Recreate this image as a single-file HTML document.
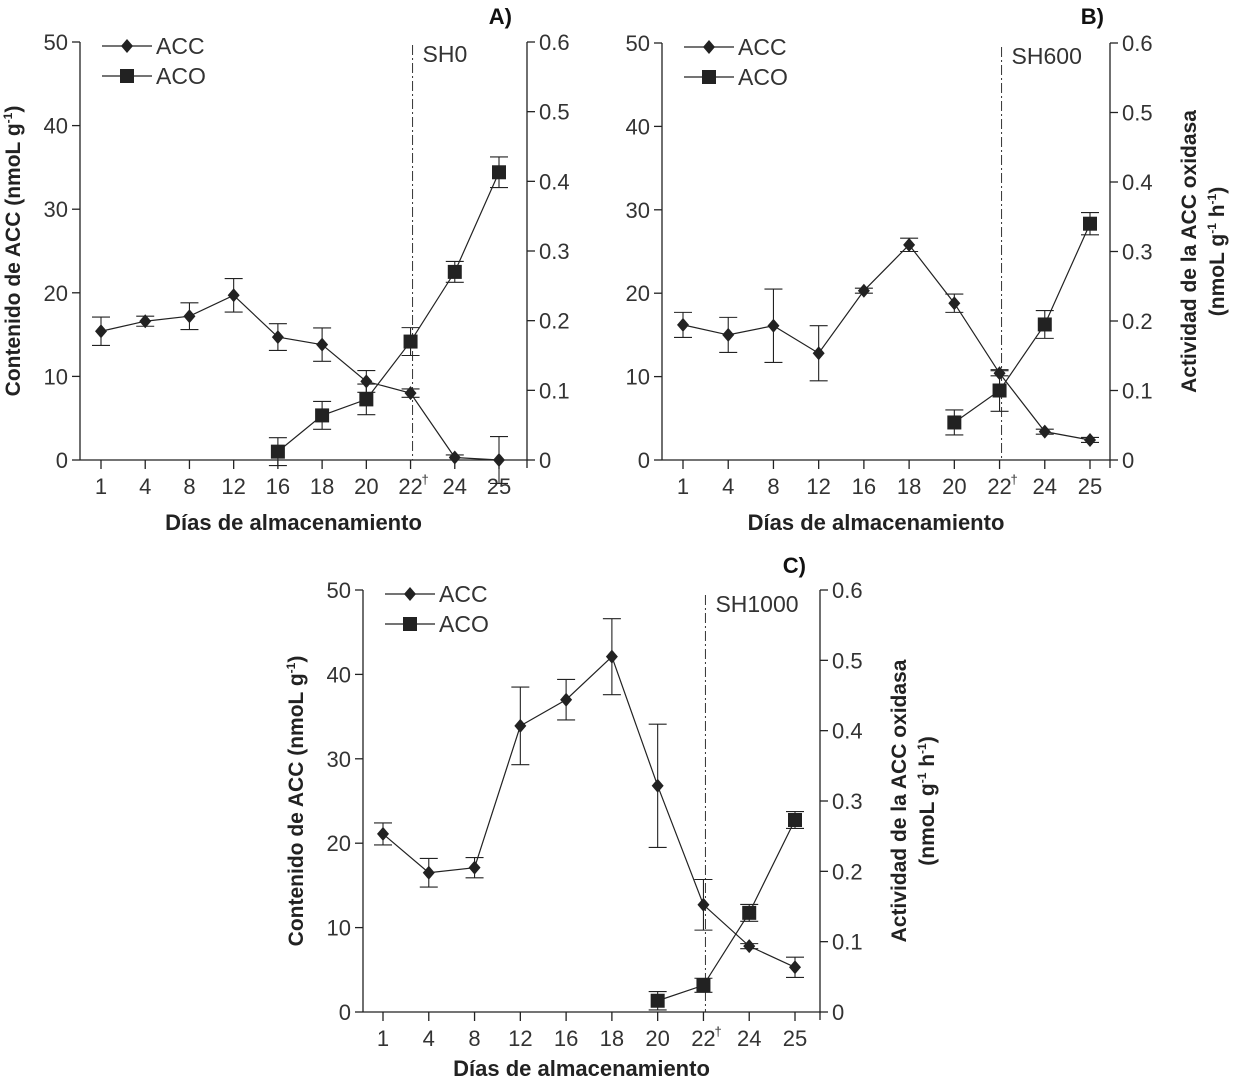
<!DOCTYPE html>
<html><head><meta charset="utf-8"><style>
html,body{margin:0;padding:0;background:#fff;}
svg{display:block;font-family:"Liberation Sans",sans-serif;}
.tk{font-size:22px;fill:#333;}
.tt{font-size:21px;font-weight:bold;fill:#222;}
</style></head><body>
<svg id="chart" width="1235" height="1081" viewBox="0 0 1235 1081" xmlns="http://www.w3.org/2000/svg"></svg>
<script>
const categories = ["1","4","8","12","16","18","20","22","24","25"];
const leftTicks = [0,10,20,30,40,50];
const rightTicks = [0,0.1,0.2,0.3,0.4,0.5,0.6];
const rightTickLabels = ["0","0.1","0.2","0.3","0.4","0.5","0.6"];
const accA = [15.4,16.6,17.2,19.7,14.7,13.8,9.4,8.0,0.3,0.0];
const accErrA = [1.7,0.6,1.6,2.0,1.6,2.0,1.3,0.5,0.3,2.8];
const acoA = [null,null,null,null,0.012,0.064,0.087,0.170,0.270,0.413];
const acoErrA = [0,0,0,0,0.020,0.020,0.022,0.020,0.015,0.022];
const accB = [16.2,15.0,16.1,12.8,20.3,25.8,18.8,10.4,3.4,2.4];
const accErrB = [1.5,2.1,4.4,3.3,0.3,0.8,1.1,0.3,0.3,0.3];
const acoB = [null,null,null,null,null,null,0.054,0.100,0.195,0.340];
const acoErrB = [0,0,0,0,0,0,0.018,0.030,0.020,0.016];
const accC = [21.1,16.5,17.1,33.9,37.0,42.1,26.8,12.7,7.8,5.3];
const accErrC = [1.3,1.7,1.2,4.6,2.4,4.5,7.3,3.0,0.3,1.2];
const acoC = [null,null,null,null,null,null,0.016,0.038,0.141,0.273];
const acoErrC = [0,0,0,0,0,0,0.013,0.010,0.012,0.012];

const NS="http://www.w3.org/2000/svg";
const svg=document.getElementById('chart');
function mk(tag,attrs,parent,txt){const e=document.createElementNS(NS,tag);for(const k in attrs)e.setAttribute(k,attrs[k]);if(txt!==undefined)e.textContent=txt;(parent||svg).appendChild(e);return e;}

function panel(p){
  const g=mk('g',{});
  
  
  const xs=i=>p.x1+(p.x2-p.x1)*i/(categories.length-1);
  const yl=v=>p.y0-(p.y0-p.yTop)*v/50;
  const yr=v=>p.y0-(p.y0-p.yTop)*v/0.6;
  const st={stroke:'#222','stroke-width':1.3,fill:'none'};
  mk('line',Object.assign({x1:p.lx,y1:p.yTop,x2:p.lx,y2:p.y0},st),g);
  mk('line',Object.assign({x1:p.rx,y1:p.yTop,x2:p.rx,y2:p.y0+8},st),g);
  mk('line',Object.assign({x1:p.lx,y1:p.y0,x2:p.rx,y2:p.y0},st),g);
  leftTicks.forEach(v=>{const y=yl(v);mk('line',Object.assign({x1:p.lx-8,y1:y,x2:p.lx,y2:y},st),g);
    const t=mk('text',{x:p.lx-12,y:y+8,'text-anchor':'end',class:'tk'},g,String(v));});
  rightTicks.forEach((v,i)=>{const y=yr(v);mk('line',Object.assign({x1:p.rx,y1:y,x2:p.rx+8,y2:y},st),g);
    const t=mk('text',{x:p.rx+12,y:y+8,class:'tk'},g,rightTickLabels[i]);});
  categories.forEach((c,i)=>{const x=xs(i);mk('line',Object.assign({x1:x,y1:p.y0,x2:x,y2:p.y0+9},st),g);
    const t=mk('text',{x:x,y:p.y0+34,'text-anchor':'middle',class:'tk'},g,c);
    if(c==="22")mk('text',{x:x+11,y:p.y0+24,style:'font-size:13px;fill:#333'},g,'†');});
  const vx=xs(7)+2;
  mk('line',{x1:vx,y1:p.vTop,x2:vx,y2:p.y0,stroke:'#333','stroke-width':1,'stroke-dasharray':'10,3,2,3'},g);
  const sl=mk('text',{x:vx+10,y:p.vTop+17,class:'tk',style:'font-size:23px'},g,p.sh);
  const pl=mk('text',{x:p.lblX,y:p.lblY,style:'font-size:22px;font-weight:bold;fill:#111','text-anchor':'end'},g,p.id+')');
  function series(vals,errs,yf,shape,name){
    const pts=[];vals.forEach((v,i)=>{if(v!==null)pts.push([xs(i),yf(v),errs[i],i]);});
    const pl=mk('polyline',{points:pts.map(q=>q[0]+','+q[1]).join(' '),fill:'none',stroke:'#222','stroke-width':1.2},g);
    
    pts.forEach(q=>{const x=q[0],v=vals[q[3]],e=q[2];
      const yt=yf(v+e);
      if(e>0){mk('line',{x1:x,y1:yt,x2:x,y2:Math.min(yf(v-e),p.y0+25),stroke:'#222','stroke-width':1.1},g);
        mk('line',{x1:x-9,y1:yt,x2:x+9,y2:yt,stroke:'#222','stroke-width':1.1},g);
        mk('line',{x1:x-9,y1:yf(v-e),x2:x+9,y2:yf(v-e),stroke:'#222','stroke-width':1.1},g);}
      let m;
      if(shape==='d')m=mk('polygon',{points:`${x},${q[1]-7} ${x+6},${q[1]} ${x},${q[1]+7} ${x-6},${q[1]}`,fill:'#222'},g);
      else m=mk('rect',{x:x-7,y:q[1]-7,width:14,height:14,fill:'#222'},g);
      });
  }
  series(p.acc,p.accErr,yl,'d','acc');
  series(p.aco,p.acoErr,yr,'s','aco');
  const lg=mk('g',{},g);
  const lx=p.lx+22,ly=p.yTop+4;
  mk('line',{x1:lx,y1:ly,x2:lx+50,y2:ly,stroke:'#222','stroke-width':1.2},lg);
  mk('polygon',{points:`${lx+25},${ly-7} ${lx+31},${ly} ${lx+25},${ly+7} ${lx+19},${ly}`,fill:'#222'},lg);
  mk('text',{x:lx+54,y:ly+8,class:'tk',style:'font-size:23px'},lg,'ACC');
  mk('line',{x1:lx,y1:ly+30,x2:lx+50,y2:ly+30,stroke:'#222','stroke-width':1.2},lg);
  mk('rect',{x:lx+18,y:ly+23,width:14,height:14,fill:'#222'},lg);
  mk('text',{x:lx+54,y:ly+38,class:'tk',style:'font-size:23px'},lg,'ACO');
  const xt=mk('text',{x:(p.lx+p.rx)/2-10,y:p.y0+p.xtOff,'text-anchor':'middle',class:'tt',style:'font-size:22px'},g,'Días de almacenamiento');
  const cy=(p.yTop+p.y0)/2;
  if(p.leftTitle){const t=mk('text',{transform:`translate(${p.lx-60},${cy}) rotate(-90)`,'text-anchor':'middle',class:'tt'},g);
    
    t.innerHTML='Contenido de ACC (nmoL g<tspan dy="-8" style="font-size:12px">-1</tspan><tspan dy="8">)</tspan>';}
  if(p.rightTitle){const t=mk('text',{transform:`translate(${p.rx+86},${cy}) rotate(-90)`,'text-anchor':'middle',class:'tt'},g,'Actividad de la ACC oxidasa');
    
    const t2=mk('text',{transform:`translate(${p.rx+114},${cy}) rotate(-90)`,'text-anchor':'middle',class:'tt'},g);
    
    t2.innerHTML='(nmoL g<tspan dy="-8" style="font-size:12px">-1</tspan><tspan dy="8"> h</tspan><tspan dy="-8" style="font-size:12px">-1</tspan><tspan dy="8">)</tspan>';}
}
panel({id:'A',lx:80,rx:527,x1:101,x2:499,y0:460,yTop:42,vTop:45,sh:'SH0',lblX:512,lblY:24,xtOff:70,acc:accA,accErr:accErrA,aco:acoA,acoErr:acoErrA,leftTitle:true,rightTitle:false});
panel({id:'B',lx:662,rx:1110,x1:683,x2:1090,y0:460,yTop:43,vTop:47,sh:'SH600',lblX:1104,lblY:24,xtOff:70,acc:accB,accErr:accErrB,aco:acoB,acoErr:acoErrB,leftTitle:false,rightTitle:true});
panel({id:'C',lx:363,rx:820,x1:383,x2:795,y0:1012,yTop:590,vTop:595,sh:'SH1000',lblX:806,lblY:573,xtOff:64,acc:accC,accErr:accErrC,aco:acoC,acoErr:acoErrC,leftTitle:true,rightTitle:true});
</script>
</body></html>
